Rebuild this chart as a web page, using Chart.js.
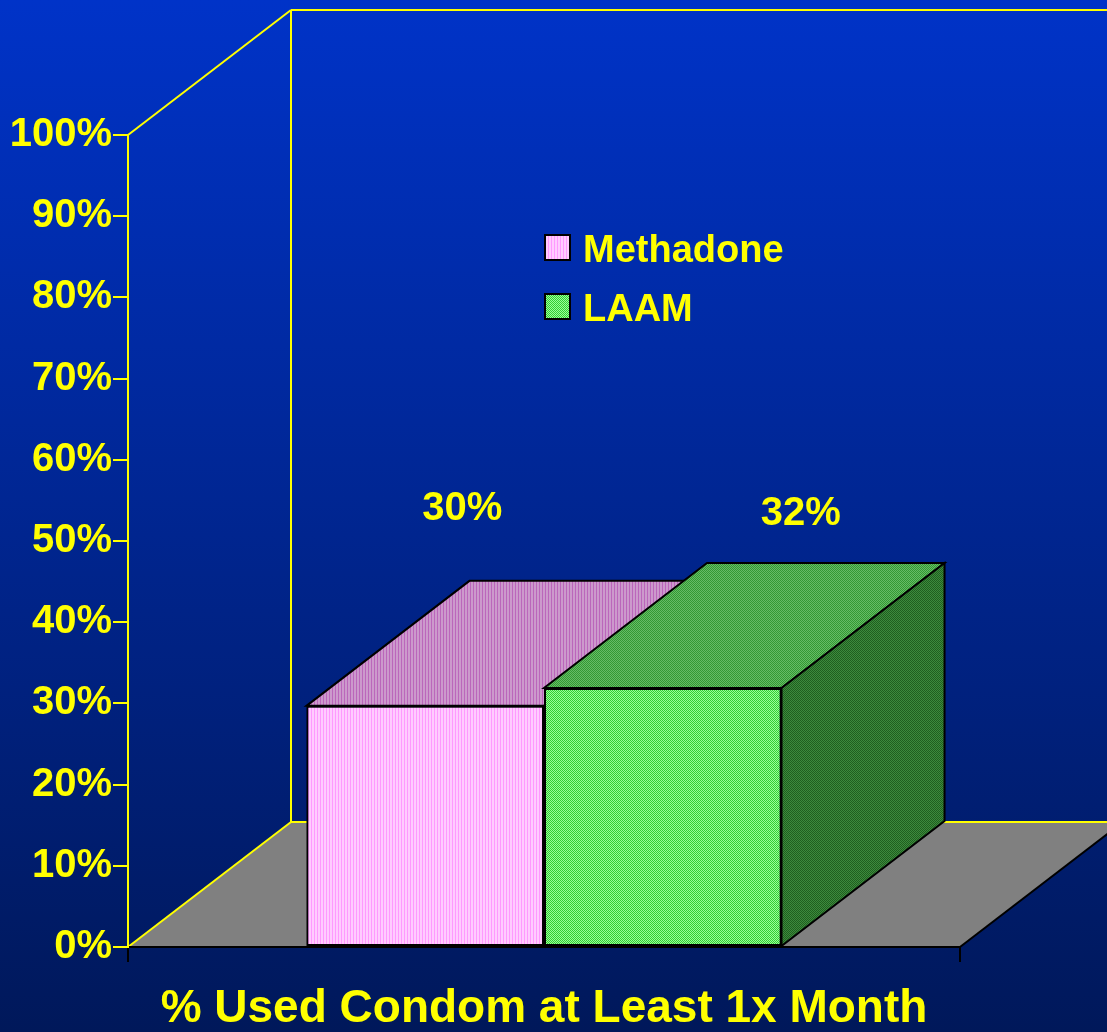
<!DOCTYPE html>
<html>
<head>
<meta charset="utf-8">
<script src="https://cdn.jsdelivr.net/npm/chart.js@4.4.1/dist/chart.umd.min.js"></script>
<style>
  html, body { margin: 0; padding: 0; background: #001a5c; }
  #wrap { width: 1107px; height: 1032px; }
</style>
</head>
<body>
<div id="wrap"><canvas id="chart"></canvas></div>
<script>
// data
const categories = ['% Used Condom at Least 1x Month'];
const seriesNames = ['Methadone', 'LAAM'];
const methadone = [29.7];
const laam = [31.9];
const yMin = 0;
const yMax = 100;
const yStep = 10;

// look
const YELLOW = '#ffff00';
const FONT = 'Arial, "Liberation Sans", sans-serif';
const DEPTH_X = 163;   // 3d offset of the bars / walls
const DEPTH_Y = 125;
const labelOffsets = [[37, -197], [138, -174]];  // value label shift from bar front top-centre
const legendPos = { dx: 417, dy: 100, row: 59 };  // relative to chartArea top-left

function stripes(colors) {
  const c = document.createElement('canvas');
  c.width = colors.length; c.height = 1;
  const g = c.getContext('2d');
  colors.forEach((col, i) => { g.fillStyle = col; g.fillRect(i, 0, 1, 1); });
  return g.createPattern(c, 'repeat');
}

function checks(a, b) {
  const c = document.createElement('canvas');
  c.width = 2; c.height = 2;
  const g = c.getContext('2d');
  g.fillStyle = a; g.fillRect(0, 0, 2, 2);
  g.fillStyle = b; g.fillRect(1, 0, 1, 1); g.fillRect(0, 1, 1, 1);
  return g.createPattern(c, 'repeat');
}

const faces = [
  {
    front: stripes(['#ffccff', '#ffccff', '#ff99ff']),
    top: stripes(['#cc99cc', '#cc99cc', '#bb66bb']),
    side: stripes(['#aa66aa', '#aa66aa', '#884488'])
  },
  {
    front: checks('#33cc33', '#99ff99'),
    top: checks('#339933', '#66bb66'),
    side: checks('#1f5f1f', '#3d8a3d')
  }
];

function poly(ctx, pts, fill, stroke, lw) {
  ctx.beginPath();
  ctx.moveTo(pts[0][0], pts[0][1]);
  for (let i = 1; i < pts.length; i++) ctx.lineTo(pts[i][0], pts[i][1]);
  ctx.closePath();
  if (fill) { ctx.fillStyle = fill; ctx.fill(); }
  if (stroke) { ctx.strokeStyle = stroke; ctx.lineWidth = lw || 2; ctx.stroke(); }
}

function line(ctx, x1, y1, x2, y2, color, lw) {
  ctx.beginPath();
  ctx.moveTo(x1, y1);
  ctx.lineTo(x2, y2);
  ctx.strokeStyle = color;
  ctx.lineWidth = lw || 2;
  ctx.stroke();
}

const scene3d = {
  id: 'scene3d',
  beforeDraw(chart) {
    const { ctx, chartArea: a, width, height } = chart;
    ctx.save();
    const grad = ctx.createLinearGradient(0, 0, 0, height);
    grad.addColorStop(0, '#0033c8');
    grad.addColorStop(1, '#00185a');
    ctx.fillStyle = grad;
    ctx.fillRect(0, 0, width, height);

    // floor
    poly(ctx, [[a.left, a.bottom], [a.right, a.bottom],
               [a.right + DEPTH_X, a.bottom - DEPTH_Y], [a.left + DEPTH_X, a.bottom - DEPTH_Y]], '#808080');
    line(ctx, a.right, a.bottom, a.right + DEPTH_X, a.bottom - DEPTH_Y, '#000', 2);
    line(ctx, a.left, a.bottom, a.left + DEPTH_X, a.bottom - DEPTH_Y, YELLOW, 2);

    // back wall
    const bx = a.left + DEPTH_X;
    line(ctx, bx, a.top - DEPTH_Y, bx, a.bottom - DEPTH_Y, YELLOW, 2);
    line(ctx, bx, a.top - DEPTH_Y, width, a.top - DEPTH_Y, YELLOW, 2);
    line(ctx, bx, a.bottom - DEPTH_Y, width, a.bottom - DEPTH_Y, YELLOW, 2);
    line(ctx, a.left, a.top, bx, a.top - DEPTH_Y, YELLOW, 2);
    ctx.restore();
  },
  afterDatasetsDraw(chart) {
    // redraw every bar as a box, left series first so later ones overlap it
    const { ctx } = chart;
    ctx.save();
    chart.data.datasets.forEach((ds, i) => {
      const f = faces[i];
      chart.getDatasetMeta(i).data.forEach((el) => {
        const l = el.x - el.width / 2, r = el.x + el.width / 2;
        const t = el.y, b = el.base;
        el.draw(ctx);
        poly(ctx, [[l, t], [r, t], [r + DEPTH_X, t - DEPTH_Y], [l + DEPTH_X, t - DEPTH_Y]], f.top, '#000', 2);
        poly(ctx, [[r, t], [r + DEPTH_X, t - DEPTH_Y], [r + DEPTH_X, b - DEPTH_Y], [r, b]], f.side, '#000', 2);
      });
    });
    ctx.restore();
  },
  afterDraw(chart) {
    const { ctx, chartArea: a } = chart;
    ctx.save();
    // value labels
    ctx.fillStyle = YELLOW;
    ctx.font = 'bold 40px ' + FONT;
    ctx.textAlign = 'center';
    ctx.textBaseline = 'middle';
    chart.data.datasets.forEach((ds, i) => {
      chart.getDatasetMeta(i).data.forEach((el, j) => {
        ctx.fillText(Math.round(ds.data[j]) + '%', el.x + labelOffsets[i][0], el.y + labelOffsets[i][1]);
      });
    });
    // legend
    ctx.textAlign = 'left';
    ctx.textBaseline = 'alphabetic';
    ctx.font = 'bold 38px ' + FONT;
    chart.data.datasets.forEach((ds, i) => {
      const x = a.left + legendPos.dx;
      const y = a.top + legendPos.dy + i * legendPos.row;
      ctx.fillStyle = faces[i].front;
      ctx.fillRect(x, y, 25, 25);
      ctx.strokeStyle = '#000';
      ctx.lineWidth = 2;
      ctx.strokeRect(x, y, 25, 25);
      ctx.fillStyle = YELLOW;
      ctx.fillText(ds.label, x + 38, y + 27);
    });
    ctx.restore();
  }
};

new Chart(document.getElementById('chart'), {
  type: 'bar',
  data: {
    labels: categories,
    datasets: [
      { label: seriesNames[0], data: methadone,
        backgroundColor: faces[0].front, borderColor: '#000', borderWidth: 2, borderSkipped: false },
      { label: seriesNames[1], data: laam,
        backgroundColor: faces[1].front, borderColor: '#000', borderWidth: 2, borderSkipped: false }
    ]
  },
  options: {
    responsive: true,
    maintainAspectRatio: false,
    animation: false,
    events: [],
    categoryPercentage: 0.571,
    barPercentage: 1.0,
    layout: { padding: { top: 135, right: 147, left: 0, bottom: 0 } },
    plugins: {
      legend: { display: false },
      tooltip: { enabled: false }
    },
    scales: {
      x: {
        afterFit: (s) => { s.height = 85; },
        grid: { offset: true, drawOnChartArea: false, color: '#000', lineWidth: 2, tickLength: 15 },
        border: { color: '#000', width: 2 },
        ticks: {
          color: YELLOW, padding: 20, maxRotation: 0, autoSkip: false,
          font: { family: FONT, size: 46, weight: 'bold' }
        }
      },
      y: {
        min: yMin,
        max: yMax,
        afterFit: (s) => { s.width = 128; },
        grid: { drawOnChartArea: false, color: YELLOW, lineWidth: 2, tickLength: 15 },
        border: { color: YELLOW, width: 2 },
        ticks: {
          stepSize: yStep, color: YELLOW, padding: 1,
          font: { family: FONT, size: 40, weight: 'bold' },
          callback: (v) => v + '%'
        }
      }
    }
  },
  plugins: [scene3d]
});
</script>
</body>
</html>
